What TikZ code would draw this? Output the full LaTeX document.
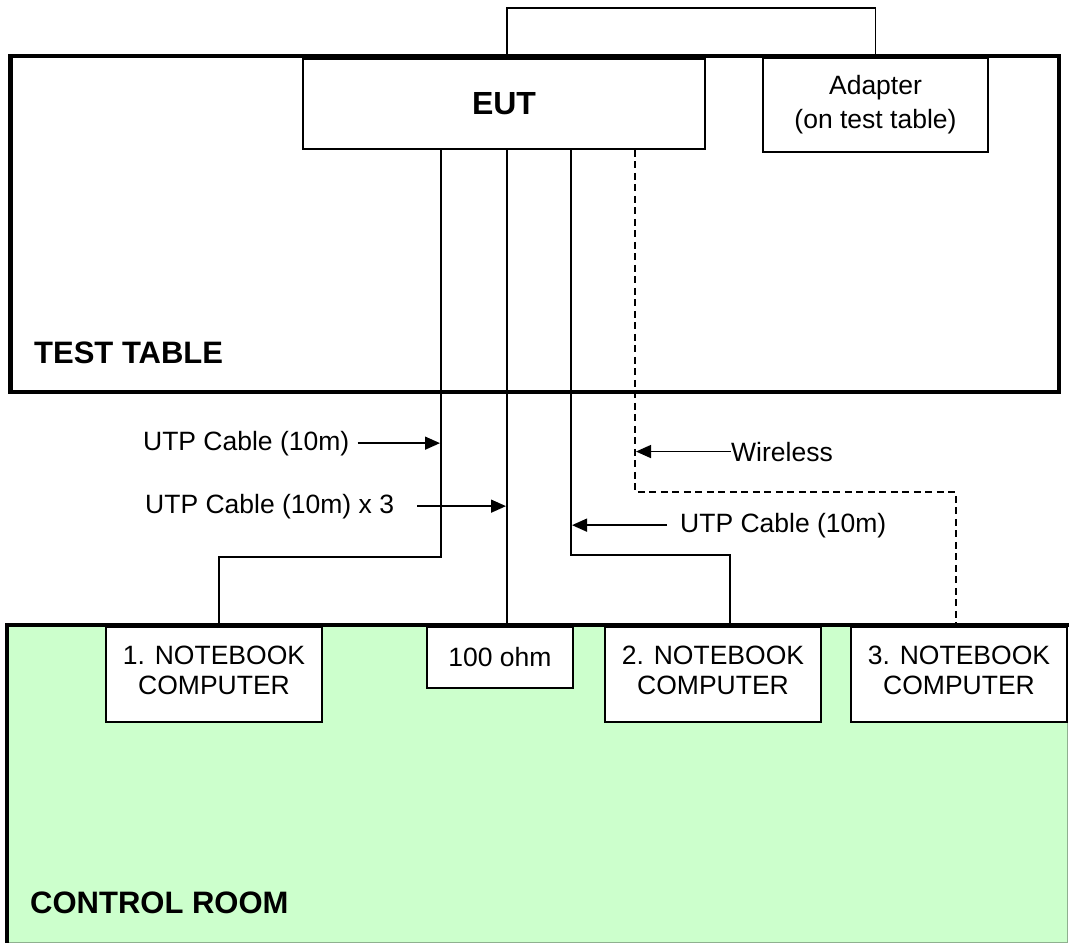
\documentclass[tikz,border=0pt]{standalone}
\usepackage{fontspec}
\setmainfont{Liberation Sans}
\usetikzlibrary{arrows.meta}
\definecolor{roomgreen}{HTML}{CCFFCC}
\definecolor{roomedge}{HTML}{8FB08F}
\begin{document}
\begin{tikzpicture}[x=1pt,y=-1pt,
  thickborder/.style={line width=4.6pt},
  box/.style={draw, line width=1.5pt, fill=white, inner sep=0pt, align=center,
    font=\fontsize{26.5pt}{30pt}\selectfont},
  nbbox/.style={minimum width=216pt, minimum height=95pt, text depth=8pt},
  cable/.style={line width=1.5pt},
  wless/.style={line width=1.5pt, dash pattern=on 7pt off 4.5pt},
  lbl/.style={font=\fontsize{26.5pt}{30pt}\selectfont, inner sep=0pt},
  roomtitle/.style={font=\fontsize{31pt}{36pt}\selectfont\bfseries, inner sep=0pt, anchor=base west},
  arr/.style={line width=1.5pt, -{Triangle[length=15pt,width=13pt]}}
]
\useasboundingbox (0,0) rectangle (1069,943);

% control room
\draw[line width=1pt, draw=roomedge, fill=roomgreen] (7,625) rectangle (1067,942);
\draw[thickborder] (7,943) -- (7,625) -- (1069,625);

% test table
\draw[thickborder] (10.5,56) rectangle (1059,392);
\node[roomtitle] (tt) at (34,363) {TEST TABLE};
\node[roomtitle] (cr) at (30,913) {CONTROL ROOM};

% devices
\node[box, minimum width=402pt, minimum height=90pt,
      font=\fontsize{32pt}{36pt}\selectfont\bfseries] (eut) at (504,104) {EUT};
\node[box, minimum width=225pt, minimum height=94pt,
      font=\fontsize{26.5pt}{34pt}\selectfont] (adp) at (875.5,105) {Adapter\\(on test table)};
\node[box, nbbox] (nb1) at (214,674.5) {1. NOTEBOOK\\COMPUTER};
\node[box, minimum width=146pt, minimum height=61pt] (ohm) at (500,657.5) {100 ohm};
\node[box, nbbox] (nb2) at (713,674.5) {2. NOTEBOOK\\COMPUTER};
\node[box, nbbox] (nb3) at (959,674.5) {3. NOTEBOOK\\COMPUTER};

% cables
\draw[cable] (507,0 |- eut.north) -- (507,8) -- (875.5,8) -- (adp.north);
\draw[cable] (441,0 |- eut.south) -- (441,557) -- (219,557) -- (219,0 |- nb1.north);
\draw[cable] (507,0 |- eut.south) -- (507,0 |- ohm.north);
\draw[cable] (571,0 |- eut.south) -- (571,555) -- (730,555) -- (730,0 |- nb2.north);
\draw[wless] (635,0 |- eut.south) -- (635,492) -- (956,492) -- (956,0 |- nb3.north);

% labels and arrows
\node[lbl, anchor=base east] (u1) at (349.5,450) {UTP Cable (10m)};
\draw[arr] ([xshift=8pt]u1.east) -- (u1.east -| 440,0);
\node[lbl, anchor=base west] (u3) at (145,513) {UTP Cable (10m) x 3};
\draw[arr] ([xshift=23pt]u3.east) -- (u3.east -| 506,0);
\node[lbl, anchor=base west] (wl) at (731,461) {Wireless};
\draw[arr] (wl.west) -- (wl.west -| 636,0);
\node[lbl, anchor=base west] (u2) at (680,532) {UTP Cable (10m)};
\draw[arr] ([xshift=-13pt]u2.west) -- (u2.west -| 572,0);
\end{tikzpicture}
\end{document}
